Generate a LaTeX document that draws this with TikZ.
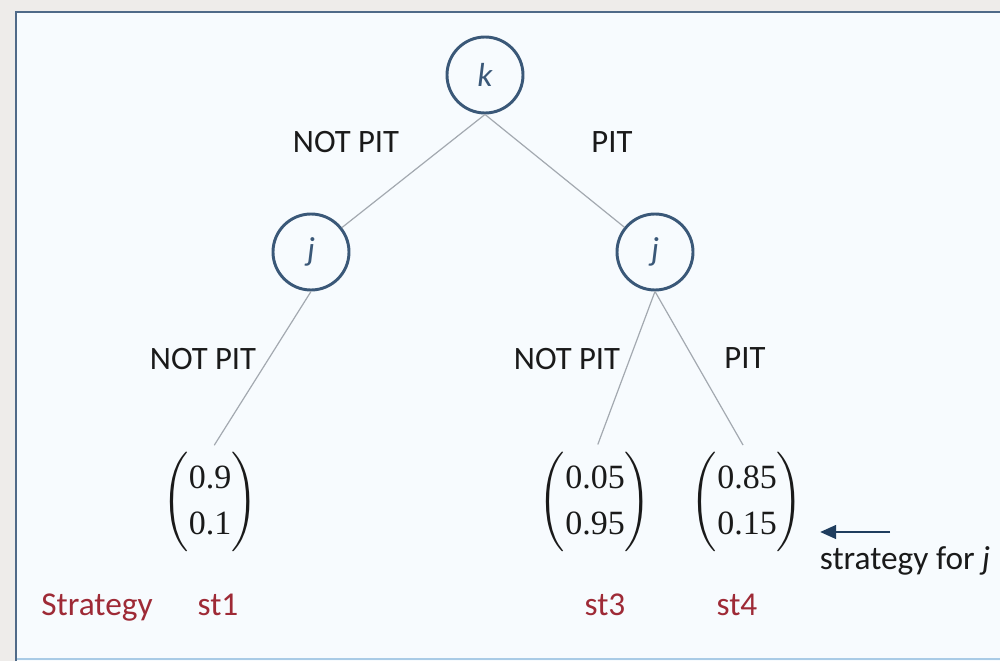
\RequirePackage{fix-cm}
\documentclass[tikz,border=0pt]{standalone}
\usepackage{amsmath}
\usepackage{fontspec}
\setmainfont{Carlito}
\newfontfamily\numfont{Liberation Serif}
\usetikzlibrary{arrows.meta}

\definecolor{outside}{HTML}{EEECEA}
\definecolor{panel}{HTML}{F7FBFE}
\definecolor{frame}{HTML}{4F6A88}
\definecolor{framelight}{HTML}{A9CBE6}
\definecolor{nodeline}{HTML}{3A5878}
\definecolor{edgegray}{HTML}{A3A9B0}
\definecolor{labelred}{HTML}{9E2A36}
\definecolor{arrowblue}{HTML}{1F3D5E}
\definecolor{ink}{HTML}{1A1A1A}

% a two-entry column vector in round brackets
\newcommand{\colvec}[2]{{\fontsize{25.5}{35}\selectfont\delimiterfactor=880
  $\left(\vcenter{\hbox{\numfont
  \begin{tabular}{@{}c@{}}#1\\#2\end{tabular}}}\right)$}}

\begin{document}
\begin{tikzpicture}[x=0.75pt,y=-0.75pt,
  player/.style={circle,draw=nodeline,line width=2.2pt,minimum size=57pt,
    inner sep=0pt,font=\fontsize{25}{28}\selectfont\itshape,text=nodeline},
  branch/.style={draw=edgegray,line width=0.9pt},
  movelabel/.style={font=\fontsize{24.5}{28}\selectfont,text=ink,anchor=base,inner sep=0pt},
  payoff/.style={inner sep=0pt,text=ink},
  stratlabel/.style={font=\fontsize{25}{28}\selectfont,text=labelred,anchor=base,inner sep=0pt}]

% page and framed panel
\useasboundingbox (0,0) rectangle (1000,661);
\fill[outside] (0,0) rectangle (1000,661);
\fill[panel] (16,12) rectangle (1000,661);
\draw[framelight,line width=1.2pt] (16,659) -- (1000,659);
\draw[frame,line width=2pt] (16,661) -- (16,12) -- (1000,12);

% decision nodes
\node[player] (k)  at (485,75)  {k};
\node[player] (jl) at (311,252) {j};
\node[player] (jr) at (655,252) {j};

% payoff vectors
\node[payoff] (v1) at (210,502) {\colvec{0.9}{0.1}};
\node[payoff] (v3) at (595,502) {\colvec{0.05}{0.95}};
\node[payoff] (v4) at (747,502) {\colvec{0.85}{0.15}};

% branches
\draw[branch] (k.south) -- (jl);
\draw[branch] (k.south) -- (jr);
\draw[branch,shorten >=6pt] (jl.south) -- (v1.north);
\draw[branch,shorten >=6pt] (jr.south) -- (v3.north);
\draw[branch,shorten >=6pt] (jr.south) -- (v4.north);

% move labels
\node[movelabel] (m1) at (346,152) {NOT PIT};
\node[movelabel] (m2) at (612,152) {PIT};
\node[movelabel] (m3) at (203,369) {NOT PIT};
\node[movelabel] (m4) at (567,369) {NOT PIT};
\node[movelabel] (m5) at (745,368) {PIT};

% pointer to the strategy vector
\coordinate (tail) at (890,532);
\coordinate (tip)  at (820,532);
\draw[arrowblue,line width=2.2pt,-{Triangle[length=12pt,width=10pt]}] (tail) -- (tip);
\node[movelabel,font=\fontsize{25}{28}\selectfont] (note) at (905,569) {strategy for \textit{j}};

% strategy names
\node[stratlabel] (s0) at (97,615)  {Strategy};
\node[stratlabel] (s1) at (218,615) {st1};
\node[stratlabel] (s3) at (605,615) {st3};
\node[stratlabel] (s4) at (737,615) {st4};
\end{tikzpicture}
\end{document}
